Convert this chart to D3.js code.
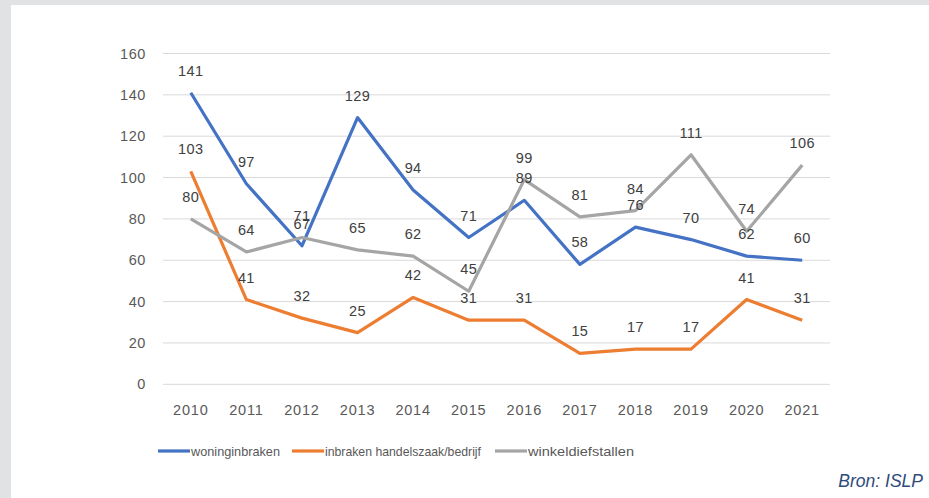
<!DOCTYPE html>
<html><head><meta charset="utf-8">
<script src="https://cdn.jsdelivr.net/npm/d3@7"></script>
<style>
html,body{margin:0;padding:0;background:#fff;}
svg{display:block;}
</style></head>
<body>
<script>
const years = ["2010","2011","2012","2013","2014","2015","2016","2017","2018","2019","2020","2021"];
const woninginbraken = [141,97,67,129,94,71,89,58,76,70,62,60];
const handelszaak = [103,41,32,25,42,31,31,15,17,17,41,31];
const winkeldiefstallen = [80,64,71,65,62,45,99,81,84,111,74,106];
const yTicks = [0,20,40,60,80,100,120,140,160];
const seriesNames = ["woninginbraken","inbraken handelszaak/bedrijf","winkeldiefstallen"];
const seriesColors = ["#4472C4","#ED7D31","#A5A5A5"];

const W = 929, H = 498;
const svg = d3.select("body").append("svg").attr("width", W).attr("height", H);

// frame
svg.append("rect").attr("x",0).attr("y",0).attr("width",W).attr("height",H).attr("fill","#e1e2e4");
svg.append("rect").attr("x",11).attr("y",5).attr("width",W-11).attr("height",H-5).attr("fill","#ffffff");

const x = d3.scaleBand().domain(years).range([163, 830]);
const y = d3.scaleLinear().domain([0,160]).range([384.3, 53.5]);
const FONT = "Liberation Sans, Arial, sans-serif";

// gridlines
svg.append("g").selectAll("line").data(yTicks).join("line")
  .attr("x1",163).attr("x2",830)
  .attr("y1",d=>y(d)).attr("y2",d=>y(d))
  .attr("stroke","#d9d9d9").attr("stroke-width",1);

// y axis labels
const yAxis = svg.append("g").attr("transform","translate(146,0)")
  .call(d3.axisLeft(y).tickValues(yTicks).tickSize(0).tickPadding(0));
yAxis.select(".domain").remove();
yAxis.selectAll("text").attr("font-family",FONT)
  .attr("font-size",14.5).attr("letter-spacing",0.6).attr("fill","#595959");

// x axis labels
const xAxis = svg.append("g").attr("transform","translate(0,401)")
  .call(d3.axisBottom(x).tickSize(0).tickPadding(4));
xAxis.select(".domain").remove();
xAxis.selectAll("text").attr("font-family",FONT)
  .attr("font-size",14.5).attr("letter-spacing",0.8).attr("fill","#595959");

const cx = d => x(d) + x.bandwidth()/2;
const allSeries = [woninginbraken, handelszaak, winkeldiefstallen];
const line = d3.line().x((d,i)=>cx(years[i])).y(d=>y(d));

allSeries.forEach((s,k)=>{
  svg.append("path").datum(s).attr("d",line)
    .attr("fill","none").attr("stroke",seriesColors[k]).attr("stroke-width",3.2)
    .attr("stroke-linejoin","round");
});

// data labels
allSeries.forEach((s,k)=>{
  svg.append("g").selectAll("text").data(s).join("text")
    .attr("x",(d,i)=>cx(years[i]))
    .attr("y",d=>y(d)-17)
    .attr("text-anchor","middle")
    .attr("font-family",FONT)
    .attr("font-size",14.5).attr("letter-spacing",0.4).attr("fill","#404040")
    .text(d=>d);
});

// legend
const legX = [158, 292, 495];
const legW = [89, 156, 106];
const lg = svg.append("g");
seriesNames.forEach((n,k)=>{
  lg.append("line").attr("x1",legX[k]).attr("x2",legX[k]+32)
    .attr("y1",451).attr("y2",451).attr("stroke",seriesColors[k]).attr("stroke-width",3.2);
  lg.append("text").attr("x",legX[k]+33).attr("y",455.5)
    .attr("font-family",FONT)
    .attr("textLength",legW[k]).attr("lengthAdjust","spacingAndGlyphs")
    .attr("font-size",13.2).attr("fill","#595959").text(n);
});

// source
svg.append("text").attr("x",923).attr("y",487).attr("text-anchor","end")
  .attr("font-family",FONT).attr("font-style","italic")
  .attr("font-size",17.5).attr("fill","#2f4b7c").text("Bron: ISLP");
</script>
</body></html>
